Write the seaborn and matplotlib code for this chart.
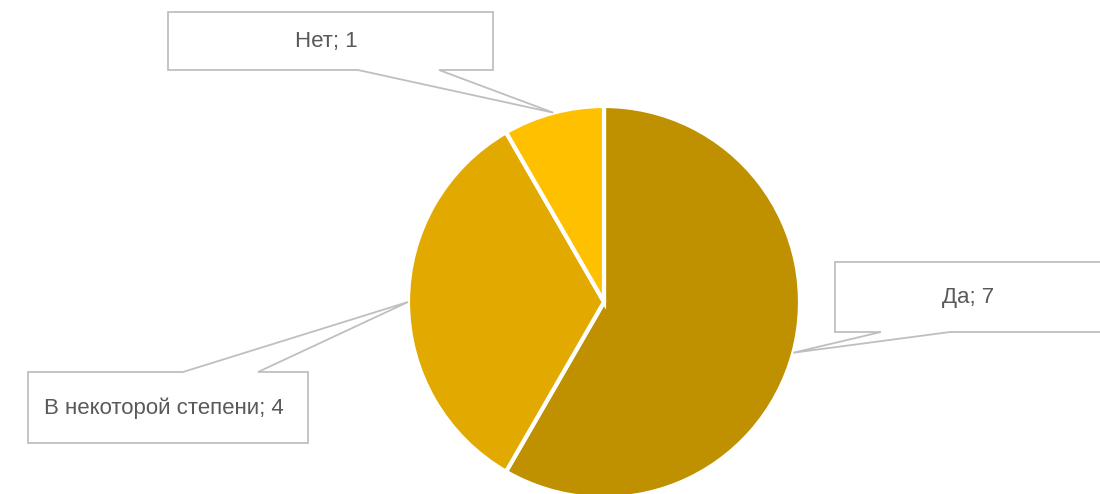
import matplotlib
matplotlib.use("Agg")
import matplotlib.pyplot as plt
from matplotlib.patches import Polygon
import numpy as np
import seaborn as sns

# Data
labels = ["Да", "В некоторой степени", "Нет"]
values = [7, 4, 1]
colors = ["#BF9000", "#E2AA00", "#FFC000"]

# callout boxes in pixel coords (left, top, right, bottom), wedge base x-range
boxes = [
    (835, 262, 1109, 332, 881, 950),
    (28, 372, 308, 443, 183, 258),
    (168, 12, 493, 70, 358, 439),
]

sns.set_theme(style="white")
plt.rcParams['font.family'] = ['Liberation Sans', 'DejaVu Sans']

W, H = 1100, 494
fig = plt.figure(figsize=(11, 4.94), dpi=100)
ax = fig.add_axes([0, 0, 1, 1])

cx, cy, r = 604, H - 302, 196
wedges, _ = ax.pie(
    values,
    colors=colors,
    startangle=90,
    counterclock=False,
    center=(cx, cy),
    radius=r,
    frame=True,
    wedgeprops=dict(edgecolor="white", linewidth=3),
)
ax.set_xlim(0, W)
ax.set_ylim(0, H)
ax.set_aspect("equal")
ax.axis("off")

for w, lab, val, (l, t, rr, b, x1, x2) in zip(wedges, labels, values, boxes):
    ang = np.deg2rad((w.theta1 + w.theta2) / 2)
    tip = (cx + r * np.cos(ang), cy + r * np.sin(ang))
    T, B = H - t, H - b
    if tip[1] > T:
        # wedge on top edge
        pts = [(l, T), (x1, T), tip, (x2, T), (rr, T), (rr, B), (l, B)]
    else:
        # wedge on bottom edge
        pts = [(l, T), (rr, T), (rr, B), (x2, B), tip, (x1, B), (l, B)]
    ax.add_patch(Polygon(pts, closed=True, facecolor="white",
                         edgecolor="#BFBFBF", linewidth=1.3, zorder=3))
    ax.text((l + rr) / 2 - 4, (T + B) / 2 - 1, f"{lab}; {val}",
            ha="center", va="center", fontsize=16, color="#595959", zorder=4)

fig.savefig("out.png", dpi=100)
